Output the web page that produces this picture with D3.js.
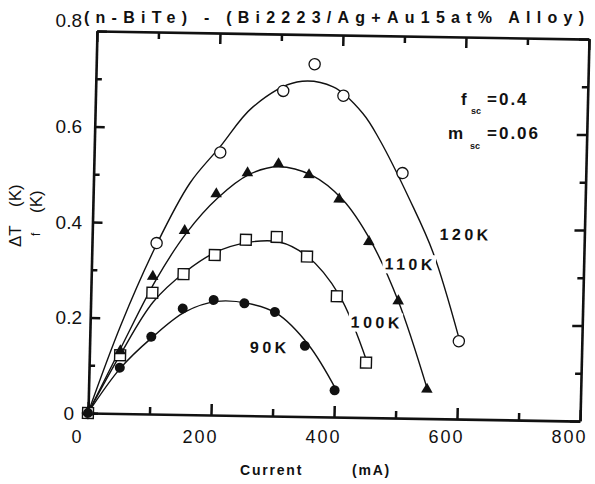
<!DOCTYPE html>
<html lang="en">
<head>
<meta charset="UTF-8">
<title>Delta T vs current</title>
<script src="https://cdn.jsdelivr.net/npm/d3@7"></script>
<style>
    body { margin: 0; background: #fff; }
    text { font-family: "Liberation Sans", Arial, sans-serif; fill: #111; }
</style>
</head>
<body>
<svg id="chart" width="595" height="484"></svg>
<script>
// measured points (current in mA, delta T in K)
const current90 = [0, 50, 100, 150, 200, 250, 300, 350, 400];
const dT90 = [0, 0.096, 0.162, 0.222, 0.241, 0.235, 0.218, 0.148, 0.056];
const current100 = [0, 50, 100, 150, 200, 250, 300, 350, 400, 450];
const dT100 = [0, 0.122, 0.254, 0.294, 0.335, 0.368, 0.375, 0.335, 0.253, 0.115];
const current110 = [0, 50, 100, 150, 200, 250, 300, 350, 400, 450, 500, 550];
const dT110 = [0, 0.129, 0.286, 0.383, 0.461, 0.506, 0.526, 0.504, 0.454, 0.366, 0.243, 0.059];
const current120 = [0, 105, 205, 305, 355, 403, 502, 600];
const dT120 = [0, 0.358, 0.55, 0.681, 0.738, 0.673, 0.513, 0.163];

// fitted curves
const fitI90 = [0, 51, 101, 154, 205, 256, 303, 356, 403];
const fit90 = [0, 0.095, 0.16, 0.215, 0.238, 0.235, 0.215, 0.15, 0.056];
const fitI100 = [0, 51, 102, 154, 200, 251, 303, 351, 404, 452];
const fit100 = [0, 0.125, 0.235, 0.3, 0.34, 0.362, 0.365, 0.335, 0.255, 0.115];
const fitI110 = [0, 50, 105, 153, 203, 253, 300, 355, 406, 453, 500, 551];
const fit110 = [0, 0.135, 0.28, 0.38, 0.455, 0.505, 0.522, 0.505, 0.455, 0.37, 0.245, 0.06];
const fitI120 = [0, 50, 105, 157, 204, 256, 327, 386, 435, 464, 515, 555, 600];
const fit120 = [0, 0.185, 0.355, 0.485, 0.561, 0.646, 0.70, 0.691, 0.637, 0.581, 0.457, 0.347, 0.17];

const xMajor = [0, 200, 400, 600, 800];
const xMinor = [100, 300, 500, 700];
const yMajor = [0, 0.2, 0.4, 0.6, 0.8];
const yMinor = [0.1, 0.3, 0.5, 0.7];

const seriesNames = ["90K", "100K", "110K", "120K"];
const labelAt = [[293, 0.144], [466, 0.20], [518, 0.323], [607, 0.387]];

const W = 492, H = 382;
const x = d3.scaleLinear().domain([0, 800]).range([0, W]);
const y = d3.scaleLinear().domain([0, 0.8]).range([H, 0]);

const svg = d3.select("#chart");

// the scanned frame is slightly skewed
const plot = svg.append("g").attr("transform", "matrix(1,0.0164,-0.0236,1,97,31)");

function frame(sel, w) {
    sel.select(".domain").attr("stroke-width", w).attr("stroke", "#111");
    sel.selectAll(".tick line").attr("stroke-width", 2.5).attr("stroke", "#111");
}

// ticks point inward on all four sides
plot.append("g").attr("transform", `translate(0,${H})`)
    .call(d3.axisBottom(x).tickValues(xMajor).tickSize(-11).tickSizeOuter(0).tickFormat(""))
    .call(frame, 2.6);
plot.append("g").attr("transform", `translate(0,${H})`)
    .call(d3.axisBottom(x).tickValues(xMinor).tickSize(-7).tickFormat(""))
    .call(g => g.select(".domain").remove()).call(frame, 0);
plot.append("g")
    .call(d3.axisTop(x).tickValues(xMajor).tickSize(-11).tickSizeOuter(0).tickFormat(""))
    .call(frame, 2.6);
plot.append("g")
    .call(d3.axisTop(x).tickValues(xMinor).tickSize(-7).tickFormat(""))
    .call(g => g.select(".domain").remove()).call(frame, 0);
plot.append("g")
    .call(d3.axisLeft(y).tickValues(yMajor).tickSize(-10).tickSizeOuter(0).tickFormat(""))
    .call(frame, 2.6);
plot.append("g")
    .call(d3.axisLeft(y).tickValues(yMinor).tickSize(-6).tickFormat(""))
    .call(g => g.select(".domain").remove()).call(frame, 0);
plot.append("g").attr("transform", `translate(${W},0)`)
    .call(d3.axisRight(y).tickValues(yMajor).tickSize(-10).tickSizeOuter(0).tickFormat(""))
    .call(frame, 2.6);
plot.append("g").attr("transform", `translate(${W},0)`)
    .call(d3.axisRight(y).tickValues(yMinor).tickSize(-6).tickFormat(""))
    .call(g => g.select(".domain").remove()).call(frame, 0);

// tick labels sit unskewed on the page
const xLab = svg.append("g").attr("transform", "translate(88,430)")
    .call(d3.axisBottom(x).tickValues(xMajor).tickSize(0).tickPadding(0).tickFormat(d3.format("d")));
xLab.select(".domain").remove();
xLab.selectAll("text").attr("dx", -11).style("font-size", "18px").style("letter-spacing", "2px")
    .style("fill", "#111");

const yLab = svg.append("g").attr("transform", "translate(82,31)")
    .call(d3.axisLeft(y).tickValues(yMajor).tickSize(0).tickPadding(0)
        .tickFormat(d => d === 0 ? "0" : d3.format(".1f")(d)));
yLab.select(".domain").remove();
yLab.selectAll("text").style("font-size", "19px").style("fill", "#111")
    .attr("dx", d => d === 0 ? -8 : 0)
    .attr("y", d => d === 0.8 ? -11 : 0);

// fitted curves
const line = d3.line().x(d => x(d[0])).y(d => y(d[1])).curve(d3.curveCatmullRom.alpha(0.5));
const fits = [[fitI90, fit90], [fitI100, fit100], [fitI110, fit110], [fitI120, fit120]];
plot.append("g").selectAll("path").data(fits).join("path")
    .attr("d", f => line(d3.zip(f[0], f[1])))
    .attr("fill", "none").attr("stroke", "#111").attr("stroke-width", 1.4);

// series labels break the curves underneath
const lab = plot.append("g").selectAll("g").data(seriesNames).join("g")
    .attr("transform", (d, i) => `translate(${x(labelAt[i][0])},${y(labelAt[i][1])})`);
lab.append("text").text(d => d)
    .attr("text-anchor", "middle").attr("dy", "0.36em")
    .style("font-size", "16px").style("font-weight", "bold").style("letter-spacing", "3.5px");
lab.insert("rect", "text").each(function() {
    const b = this.parentNode.querySelector("text").getBBox();
    d3.select(this).attr("x", b.x - 2).attr("y", b.y - 1).attr("width", b.width + 2).attr("height", b.height + 2)
        .attr("fill", "#fff");
});

// markers
const pts = (xs, ys) => d3.zip(xs, ys);
plot.append("g").selectAll("circle").data(pts(current120, dT120)).join("circle")
    .attr("cx", d => x(d[0])).attr("cy", d => y(d[1])).attr("r", 5.6)
    .attr("fill", "#fff").attr("stroke", "#111").attr("stroke-width", 1.3);
plot.append("g").selectAll("path").data(pts(current100, dT100)).join("path")
    .attr("transform", d => `translate(${x(d[0])},${y(d[1])})`)
    .attr("d", d3.symbol(d3.symbolSquare, 118))
    .attr("fill", "#fff").attr("stroke", "#111").attr("stroke-width", 1.4);
plot.append("g").selectAll("path").data(pts(current110, dT110)).join("path")
    .attr("transform", d => `translate(${x(d[0])},${y(d[1]) - 1})`)
    .attr("d", d3.symbol(d3.symbolTriangle, 58))
    .attr("fill", "#111");
plot.append("g").selectAll("circle").data(pts(current90, dT90)).join("circle")
    .attr("cx", d => x(d[0])).attr("cy", d => y(d[1])).attr("r", 5)
    .attr("fill", "#111");

// title
svg.append("text").attr("x", 84).attr("y", 23)
    .attr("textLength", 500).attr("lengthAdjust", "spacing")
    .style("font-size", "16px").style("font-weight", "bold")
    .text("(n-BiTe) - (Bi2223/Ag+Au15at% Alloy)");

// axis titles
svg.append("text").attr("x", 240).attr("y", 475)
    .style("font-size", "14px").style("font-weight", "bold").style("letter-spacing", "1.8px")
    .text("Current");
svg.append("text").attr("x", 352).attr("y", 475)
    .style("font-size", "14px").style("font-weight", "bold").style("letter-spacing", "1.8px")
    .text("(mA)");

const yTitle = svg.append("g").style("font-size", "17px");
yTitle.append("text").attr("transform", "translate(21,247) rotate(-90)").text("ΔT");
yTitle.append("text").attr("transform", "translate(21,207) rotate(-90)").text("(K)");
yTitle.append("text").attr("transform", "translate(40,236) rotate(-90)").style("font-size", "12px").text("f");
yTitle.append("text").attr("transform", "translate(42,213) rotate(-90)").text("(K)");

// parameters
const note = svg.append("g").style("font-weight", "bold");
note.append("text").attr("x", 461).attr("y", 105).style("font-size", "17px").text("f");
note.append("text").attr("x", 471).attr("y", 114).style("font-size", "9px").text("sc");
note.append("text").attr("x", 487).attr("y", 105).style("font-size", "17px").style("letter-spacing", "2px").text("=0.4");
note.append("text").attr("x", 448).attr("y", 139).style("font-size", "17px").text("m");
note.append("text").attr("x", 470).attr("y", 149).style("font-size", "9px").text("sc");
note.append("text").attr("x", 487).attr("y", 139).style("font-size", "17px").style("letter-spacing", "2px").text("=0.06");
</script>
</body>
</html>
